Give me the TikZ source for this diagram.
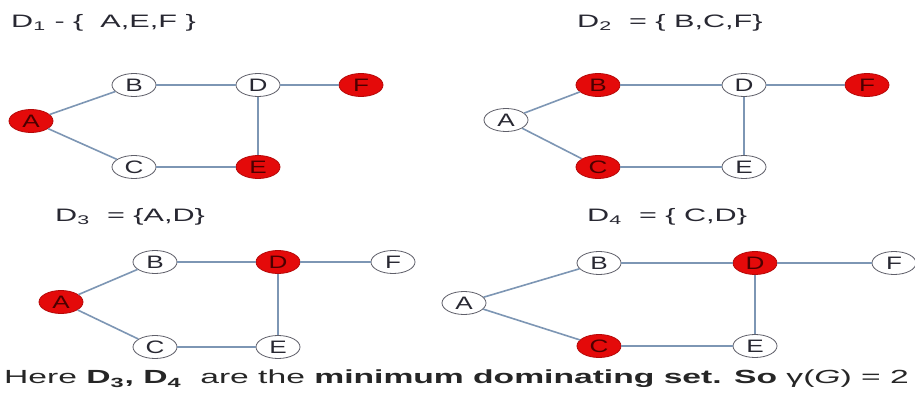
\documentclass[tikz,border=0pt]{standalone}
\usepackage{fontspec}
\usepackage{graphicx}
\setmainfont{Liberation Sans}
\usetikzlibrary{shapes.geometric}
\definecolor{edgecol}{RGB}{125,150,180}
\definecolor{nodered}{RGB}{228,10,10}
\definecolor{rimcol}{RGB}{95,95,105}
\definecolor{txtcol}{RGB}{40,40,50}
\newcommand{\wlbl}[1]{\scalebox{1.45}[1]{#1}}
\newcommand{\wtitle}[1]{\scalebox{1.7}[1]{#1}}
\begin{document}
\begin{tikzpicture}[x=1pt,y=-1pt,
  vtx/.style={ellipse,draw=rimcol,line width=0.8pt,fill=white,minimum width=44pt,minimum height=23pt,inner sep=0pt,
    font=\fontsize{18}{18}\selectfont,text=txtcol},
  sel/.style={vtx,fill=nodered,draw=nodered!80!black,text=black!70!red},
  edge/.style={draw=edgecol,line width=1.6pt},
  title/.style={anchor=west,font=\fontsize{18}{20}\selectfont,text=txtcol,inner sep=0pt}]
\useasboundingbox[fill=white] (0,0) rectangle (915,396);
% Graph 1
\node[title] (t1) at (11,23) {\wtitle{D\textsubscript{1} - \{ \ A,E,F \}}};
\node[vtx] (b1) at (134,85) {\wlbl{B}};
\node[vtx] (d1) at (258,85) {\wlbl{D}};
\node[sel] (f1) at (361,85) {\wlbl{F}};
\node[sel] (a1) at (31,121) {\wlbl{A}};
\node[vtx] (c1) at (134,167) {\wlbl{C}};
\node[sel] (e1) at (258,167) {\wlbl{E}};
% Graph 2
\node[title] (t2) at (577,23) {\wtitle{D\textsubscript{2} \ = \{ B,C,F\}}};
\node[sel] (b2) at (598,85) {\wlbl{B}};
\node[vtx] (d2) at (744,85) {\wlbl{D}};
\node[sel] (f2) at (867,85) {\wlbl{F}};
\node[vtx] (a2) at (506,120) {\wlbl{A}};
\node[sel] (c2) at (598,167) {\wlbl{C}};
\node[vtx] (e2) at (744,167) {\wlbl{E}};
% Graph 3
\node[title] (t3) at (55,217) {\wtitle{D\textsubscript{3} \ = \{A,D\}}};
\node[vtx] (b3) at (155,262) {\wlbl{B}};
\node[sel] (d3) at (278,262) {\wlbl{D}};
\node[vtx] (f3) at (393,262) {\wlbl{F}};
\node[sel] (a3) at (61,302) {\wlbl{A}};
\node[vtx] (c3) at (155,347) {\wlbl{C}};
\node[vtx] (e3) at (278,347) {\wlbl{E}};
% Graph 4
\node[title] (t4) at (587,217) {\wtitle{D\textsubscript{4} \ = \{ C,D\}}};
\node[vtx] (b4) at (599,263) {\wlbl{B}};
\node[sel] (d4) at (755,263) {\wlbl{D}};
\node[vtx] (f4) at (894,263) {\wlbl{F}};
\node[vtx] (a4) at (464,303) {\wlbl{A}};
\node[sel] (c4) at (599,346) {\wlbl{C}};
\node[vtx] (e4) at (755,346) {\wlbl{E}};
% edges
\foreach \g in {1,2,3,4}{
  \draw[edge] (a\g) -- (b\g);
  \draw[edge] (a\g) -- (c\g);
  \draw[edge] (b\g) -- (d\g);
  \draw[edge] (d\g) -- (f\g);
  \draw[edge] (d\g) -- (e\g);
  \draw[edge] (c\g) -- (e\g);
}
% bottom line
\node[anchor=west,inner sep=0pt,font=\fontsize{19}{20}\selectfont,text=black!85] (bot) at (4,379)
  {\scalebox{1.77}[1]{Here \textbf{D\textsubscript{3}, D\textsubscript{4}} \ are the \textbf{minimum dominating set. So} γ(\textit{G}) = 2}};
\end{tikzpicture}
\end{document}
